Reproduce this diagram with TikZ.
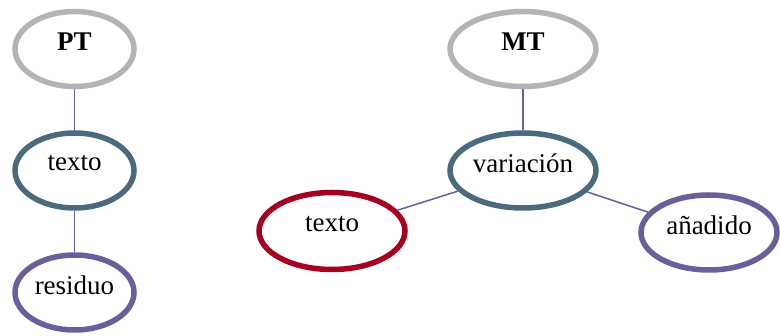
\documentclass[tikz,border=0pt]{standalone}
\usepackage{fontspec}
\setmainfont{Liberation Serif}
\usetikzlibrary{shapes.geometric}
\definecolor{cgray}{HTML}{B4B4B4}
\definecolor{cteal}{HTML}{4A6A7E}
\definecolor{cpurp}{HTML}{66619A}
\definecolor{cred}{HTML}{A50021}
\begin{document}
\begin{tikzpicture}[x=1pt,y=-1pt,
  ell/.style={ellipse,draw,line width=5.5pt,inner sep=0pt,fill=white,
    label={[font=\fontsize{27}{30}\selectfont,yshift=7pt]center:#1}},
  small/.style={ell=#1,minimum width=119pt,minimum height=75pt},
  big/.style={ell=#1,minimum width=146pt,minimum height=75pt},
  conn/.style={draw=cpurp,line width=1.5pt}]
\useasboundingbox (0,0) rectangle (780,336);
\node[small={\textbf{PT}},draw=cgray] (pt) at (74.5,49) {};
\node[small=texto,draw=cteal] (tl) at (74.5,170.5) {};
\node[small=residuo,draw=cpurp] (res) at (74.5,292.5) {};
\node[big={\textbf{MT}},draw=cgray] (mt) at (523,49) {};
\node[big=variación,draw=cteal] (var) at (523,170.5) {};
\node[big=texto,draw=cred,minimum height=77pt] (tr) at (332,231) {};
\node[ell=añadido,draw=cpurp,minimum width=136pt,minimum height=75pt] (an) at (709,232.5) {};
\draw[conn] (pt) -- (tl);
\draw[conn] (tl) -- (res);
\draw[conn] (mt) -- (var);
\draw[conn] (var) -- (tr);
\draw[conn] (var) -- (an);
\end{tikzpicture}
\end{document}
